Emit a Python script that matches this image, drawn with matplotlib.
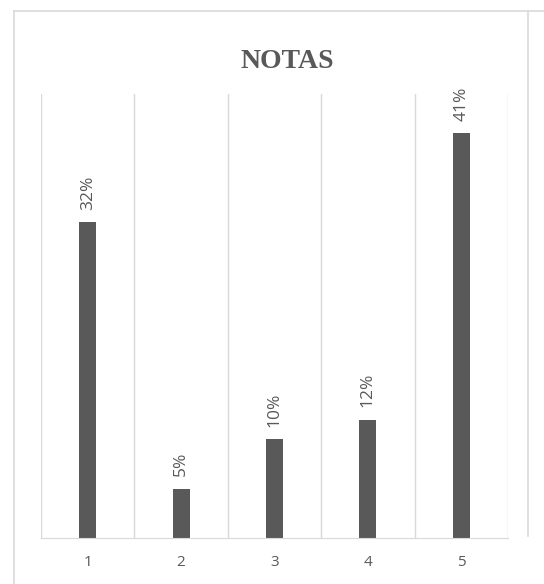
import matplotlib.pyplot as plt
from matplotlib.lines import Line2D

notas = ["1", "2", "3", "4", "5"]
porcentajes = [0.32, 0.05, 0.10, 0.12, 0.41]
etiquetas = ["32%", "5%", "10%", "12%", "41%"]

gris = "#595959"
gris_claro = "#d9d9d9"

W, H = 544, 584
fig = plt.figure(figsize=(W / 100, H / 100), dpi=100)

# borde del grafico (izquierda, arriba, derecha)
def linea(x0, y0, x1, y1):
    fig.add_artist(Line2D([x0 / W, x1 / W], [1 - y0 / H, 1 - y1 / H],
                          color=gris_claro, linewidth=1.2))

linea(13.5, 10.5, 13.5, H)
linea(13.5, 10.5, W, 10.5)
linea(528, 10.5, 528, 536)

ax = fig.add_axes([41 / W, 46 / H, 467 / W, 444 / H])
x = list(range(1, len(notas) + 1))
ax.bar(x, porcentajes, width=0.18, color=gris, zorder=3)

for xi, v, t in zip(x, porcentajes, etiquetas):
    ax.annotate(t, (xi, v), xytext=(0, 9), textcoords="offset points",
                rotation=90, ha="center", va="bottom", color=gris,
                fontsize=12.5, family="Open Sans")

ax.set_xlim(0.5, 5.5)
ax.set_ylim(0, 0.45)
ax.set_xticks(x)
ax.set_xticklabels(notas, family="Open Sans", fontsize=11, color=gris)
ax.set_xticks([i + 0.5 for i in range(0, 6)], minor=True)
ax.tick_params(axis="x", which="both", length=0, pad=12)
ax.set_yticks([])
ax.grid(axis="x", which="minor", color=gris_claro, linewidth=1, zorder=0)
for s in ["top", "left", "right"]:
    ax.spines[s].set_visible(False)
ax.spines["bottom"].set_color(gris_claro)
ax.spines["bottom"].set_zorder(4)

fig.text(287 / W, 1 - 61 / H, "NOTAS", ha="center", va="center",
         family="Liberation Serif", fontweight="bold", fontsize=20, color=gris)

fig.savefig("out.png", dpi=100)
